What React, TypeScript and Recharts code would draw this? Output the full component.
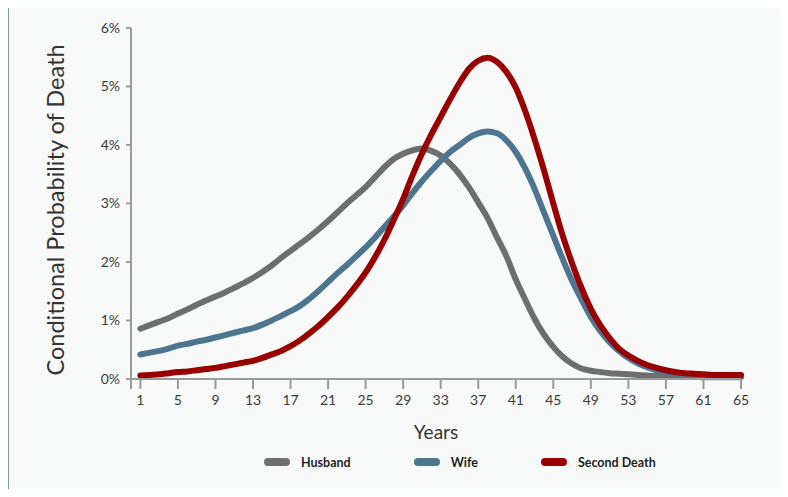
import React from "react";
import { LineChart, Line, XAxis, YAxis } from "recharts";

const YEARS = Array.from({ length: 65 }, (_, i) => i + 1);

const HUSBAND = [
  0.86, 0.92, 0.98, 1.04, 1.12, 1.19, 1.27, 1.34, 1.41, 1.48,
  1.56, 1.64, 1.73, 1.83, 1.94, 2.07, 2.19, 2.31, 2.43, 2.56,
  2.7, 2.85, 3.0, 3.14, 3.28, 3.45, 3.62, 3.76, 3.85, 3.91,
  3.94, 3.9, 3.82, 3.68, 3.5, 3.28, 3.02, 2.75, 2.42, 2.1,
  1.7, 1.36, 1.03, 0.76, 0.55, 0.38, 0.26, 0.18, 0.14, 0.12,
  0.1, 0.09, 0.08, 0.07, 0.06, 0.05, 0.05, 0.04, 0.04, 0.04,
  0.03, 0.03, 0.03, 0.03, 0.03,
];

const WIFE = [
  0.42, 0.45, 0.48, 0.52, 0.57, 0.6, 0.64, 0.67, 0.71, 0.75,
  0.79, 0.83, 0.87, 0.93, 1.0, 1.08, 1.16, 1.25, 1.37, 1.51,
  1.66, 1.81, 1.95, 2.1, 2.25, 2.42, 2.6, 2.78, 2.97, 3.18,
  3.38, 3.56, 3.73, 3.88, 4.0, 4.12, 4.2, 4.23, 4.2, 4.08,
  3.88, 3.6, 3.25, 2.85, 2.45, 2.05, 1.68, 1.36, 1.06, 0.82,
  0.63, 0.48, 0.36, 0.27, 0.2, 0.15, 0.12, 0.1, 0.08, 0.07,
  0.06, 0.06, 0.05, 0.05, 0.05,
];

const SECOND_DEATH = [
  0.06, 0.07, 0.08, 0.1, 0.12, 0.13, 0.15, 0.17, 0.19, 0.22,
  0.25, 0.28, 0.31, 0.36, 0.42, 0.48, 0.56, 0.66, 0.78, 0.91,
  1.06, 1.22, 1.4, 1.6, 1.82, 2.08, 2.38, 2.72, 3.08, 3.48,
  3.85, 4.18, 4.48, 4.78, 5.06, 5.3, 5.44, 5.49, 5.42, 5.25,
  4.98, 4.58, 4.1, 3.57, 3.0, 2.45, 1.98, 1.56, 1.2, 0.92,
  0.7, 0.52, 0.4, 0.31, 0.24, 0.19, 0.15, 0.12, 0.1, 0.09,
  0.08, 0.07, 0.07, 0.07, 0.07,
];

const X_TICKS = [0, 1, 5, 9, 13, 17, 21, 25, 29, 33, 37, 41, 45, 49, 53, 57, 61, 65];
const Y_TICKS = [0, 1, 2, 3, 4, 5, 6];

const SERIES = [
  { key: "husband", name: "Husband", color: "#6e6e6e" },
  { key: "wife", name: "Wife", color: "#4d758f" },
  { key: "second", name: "Second Death", color: "#990000" },
];

const data = YEARS.map((year, i) => ({
  year,
  husband: HUSBAND[i],
  wife: WIFE[i],
  second: SECOND_DEATH[i],
}));

const FONT = "Lato, 'Open Sans', sans-serif";
const AXIS = "#9a9a9a";
const TICK = { fill: "#3a3a3a", fontSize: 14, fontFamily: FONT };

export default function App() {
  return (
    <div style={{ position: "relative", width: 788, height: 497, margin: -8, background: "#fff", overflow: "hidden" }}>
      <div
        style={{
          position: "absolute",
          left: 8,
          top: 6,
          right: 0,
          bottom: 0,
          background: "#f8fafa",
          borderTop: "1.5px solid #7f9aae",
          borderLeft: "1.5px solid #7f9aae",
        }}
      />
      <div style={{ position: "absolute", left: 0, top: 0 }}>
        <LineChart width={788} height={497} data={data} margin={{ top: 28, right: 47, left: 31, bottom: 58 }}>
          <XAxis
            dataKey="year"
            type="number"
            domain={[0, 65]}
            ticks={X_TICKS}
            interval={0}
            tickFormatter={(v) => (v === 0 ? "" : String(v))}
            tickSize={10}
            tickMargin={6}
            height={60}
            stroke={AXIS}
            strokeWidth={2}
            tick={TICK}
            label={{
              content: () => (
                <text x={436} y={439} textAnchor="middle" fill="#333" fontSize={19} fontFamily={FONT}>
                  Years
                </text>
              ),
            }}
          />
          <YAxis
            type="number"
            domain={[0, 6]}
            ticks={Y_TICKS}
            tickFormatter={(v) => `${v}%`}
            tickSize={5}
            tickMargin={6}
            width={100}
            stroke={AXIS}
            strokeWidth={2}
            tick={TICK}
            label={{
              content: () => (
                <text
                  x={55}
                  y={210}
                  transform="rotate(-90 55 210)"
                  textAnchor="middle"
                  dominantBaseline="central"
                  fill="#333"
                  fontSize={23.5}
                  fontFamily={FONT}
                >
                  Conditional Probability of Death
                </text>
              ),
            }}
          />
          {SERIES.map((s) => (
            <Line
              key={s.key}
              dataKey={s.key}
              name={s.name}
              type="monotone"
              stroke={s.color}
              strokeWidth={6}
              strokeLinecap="round"
              strokeLinejoin="round"
              dot={false}
              activeDot={false}
              isAnimationActive={false}
            />
          ))}
        </LineChart>
      </div>
      <div
        style={{
          position: "absolute",
          top: 454,
          left: 264,
          display: "flex",
          whiteSpace: "nowrap",
          fontFamily: FONT,
          fontSize: 12.5,
          fontWeight: 700,
          color: "#1e1e1e",
        }}
      >
        {SERIES.map((s) => (
          <div key={s.key} style={{ display: "flex", alignItems: "center", height: 16, flexShrink: 0, marginRight: 63 }}>
            <span style={{ display: "inline-block", width: 26, height: 8, borderRadius: 4, background: s.color, marginRight: 11 }} />
            <span>{s.name}</span>
          </div>
        ))}
      </div>
    </div>
  );
}
